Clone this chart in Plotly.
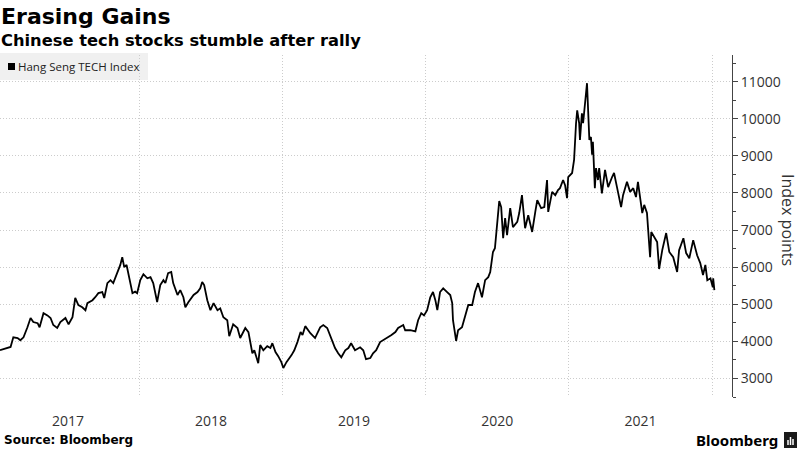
import plotly.graph_objects as go

# Hang Seng TECH Index
dates = [
    "2017-01-10", "2017-01-29", "2017-02-06", "2017-02-13", "2017-02-24", "2017-03-03", "2017-03-11",
    "2017-03-21", "2017-03-29", "2017-04-05", "2017-04-16", "2017-04-21", "2017-05-01", "2017-05-11",
    "2017-05-19", "2017-05-26", "2017-06-05", "2017-06-13", "2017-06-26", "2017-07-04", "2017-07-14",
    "2017-07-21", "2017-07-29", "2017-08-08", "2017-08-16", "2017-08-21", "2017-09-03", "2017-09-10",
    "2017-09-18", "2017-09-28", "2017-10-03", "2017-10-11", "2017-10-19", "2017-10-26", "2017-11-06",
    "2017-11-13", "2017-11-18", "2017-11-23", "2017-11-29", "2017-12-04", "2017-12-14", "2017-12-21",
    "2017-12-26", "2018-01-03", "2018-01-11", "2018-01-21", "2018-01-29", "2018-02-05", "2018-02-15",
    "2018-02-23", "2018-03-03", "2018-03-08", "2018-03-15", "2018-03-23", "2018-03-28", "2018-04-08",
    "2018-04-15", "2018-04-23", "2018-04-28", "2018-05-06", "2018-05-19", "2018-05-29", "2018-06-05",
    "2018-06-10", "2018-06-15", "2018-06-23", "2018-07-01", "2018-07-09", "2018-07-19", "2018-07-26",
    "2018-08-03", "2018-08-13", "2018-08-18", "2018-08-28", "2018-09-08", "2018-09-15", "2018-09-28",
    "2018-10-06", "2018-10-16", "2018-10-21", "2018-10-31", "2018-11-05", "2018-11-13", "2018-11-23",
    "2018-12-01", "2018-12-06", "2018-12-14", "2018-12-21", "2018-12-29", "2019-01-03", "2019-01-11",
    "2019-01-24", "2019-01-31", "2019-02-08", "2019-02-16", "2019-02-21", "2019-02-28", "2019-03-13",
    "2019-03-25", "2019-04-07", "2019-04-15", "2019-04-25", "2019-05-05", "2019-05-15", "2019-05-23",
    "2019-05-31", "2019-06-10", "2019-06-18", "2019-06-25", "2019-07-05", "2019-07-18", "2019-07-26",
    "2019-08-02", "2019-08-13", "2019-08-20", "2019-08-28", "2019-09-07", "2019-09-20", "2019-09-28",
    "2019-10-06", "2019-10-16", "2019-10-23", "2019-11-05", "2019-11-10", "2019-11-23", "2019-12-06",
    "2019-12-13", "2019-12-21", "2019-12-28", "2020-01-05", "2020-01-13", "2020-01-20", "2020-01-26",
    "2020-01-31", "2020-02-07", "2020-02-15", "2020-02-25", "2020-03-04", "2020-03-09", "2020-03-11",
    "2020-03-19", "2020-03-24", "2020-04-03", "2020-04-11", "2020-04-19", "2020-04-29", "2020-05-06",
    "2020-05-14", "2020-05-24", "2020-06-01", "2020-06-09", "2020-06-14", "2020-06-21", "2020-06-26",
    "2020-07-02", "2020-07-07", "2020-07-12", "2020-07-17", "2020-07-22", "2020-07-27", "2020-08-04",
    "2020-08-11", "2020-08-22", "2020-08-27", "2020-09-03", "2020-09-11", "2020-09-19", "2020-09-29",
    "2020-10-07", "2020-10-12", "2020-10-22", "2020-10-30", "2020-11-06", "2020-11-09", "2020-11-19",
    "2020-11-27", "2020-12-04", "2020-12-09", "2020-12-17", "2020-12-22", "2020-12-27", "2020-12-30",
    "2021-01-09", "2021-01-14", "2021-01-19", "2021-01-22", "2021-01-27", "2021-01-29", "2021-02-03",
    "2021-02-06", "2021-02-16", "2021-02-19", "2021-02-22", "2021-02-26", "2021-03-01", "2021-03-03",
    "2021-03-08", "2021-03-11", "2021-03-16", "2021-03-19", "2021-03-26", "2021-04-03", "2021-04-11",
    "2021-04-21", "2021-04-26", "2021-05-04", "2021-05-14", "2021-05-19", "2021-05-29", "2021-06-06",
    "2021-06-14", "2021-06-21", "2021-06-26", "2021-07-07", "2021-07-12", "2021-07-19", "2021-07-27",
    "2021-07-30", "2021-08-07", "2021-08-14", "2021-08-19", "2021-08-27", "2021-09-06", "2021-09-14",
    "2021-09-24", "2021-10-04", "2021-10-09", "2021-10-20", "2021-10-27", "2021-11-04", "2021-11-14",
    "2021-11-24", "2021-12-02", "2021-12-09", "2021-12-15", "2021-12-20", "2021-12-28", "2022-01-03",
    "2022-01-04", "2022-01-07",
]
index_points = [
    3760, 3820, 3850, 4110, 4090, 4030, 4110,
    4380, 4630, 4520, 4490, 4380, 4760, 4700,
    4630, 4440, 4360, 4520, 4630, 4460, 4650,
    5170, 4980, 4920, 4840, 5030, 5110, 5190,
    5300, 5330, 5170, 5570, 5650, 5570, 5840,
    6060, 6270, 6000, 6060, 5790, 5300, 5340,
    5300, 5650, 5810, 5700, 5730, 5570, 5060,
    5520, 5650, 5570, 5840, 5870, 5570, 5250,
    5380, 5190, 4920, 5060, 5250, 5330, 5430,
    5600, 5520, 5110, 4840, 5030, 4840, 4890,
    4650, 4570, 4140, 4460, 4360, 4090, 4360,
    4250, 3680, 3760, 3410, 3900, 3760, 3870,
    3820, 3950, 3710, 3600, 3440, 3280, 3440,
    3630, 3760, 3980, 4250, 4170, 4410, 4220,
    4090, 4380, 4440, 4360, 4090, 3820, 3680,
    3570, 3760, 3820, 3950, 3760, 3840, 3760,
    3520, 3550, 3680, 3760, 3980, 4060, 4110,
    4170, 4250, 4360, 4440, 4300, 4300, 4270,
    4570, 4760, 4700, 4840, 5190, 5330, 5110,
    4840, 5330, 5430, 5330, 5250, 5030, 4570,
    4010, 4300, 4380, 4650, 4980, 4980, 5330,
    5570, 5190, 5650, 5730, 5870, 6410, 6510,
    7270, 7780, 7620, 6780, 7320, 6860, 7590,
    7080, 7220, 7460, 7940, 7050, 7400, 6950,
    7490, 7810, 7590, 7620, 8350, 7490, 8030,
    7940, 8080, 8130, 8350, 8210, 7860, 8430,
    8540, 8890, 9880, 10230, 9880, 9430, 10150,
    9880, 10960, 10310, 9430, 9510, 9030, 9380,
    8130, 8670, 8350, 8670, 7990, 8620, 8160,
    8430, 8540, 8130, 7620, 7940, 8300, 8030,
    8130, 7890, 8300, 7460, 7680, 7460, 6270,
    6950, 6810, 6680, 5950, 6460, 6920, 6410,
    6270, 5870, 6460, 6780, 6380, 6240, 6730,
    6320, 6110, 5790, 6060, 5650, 5700, 5460,
    5700, 5380,
]

series_name = "Hang Seng TECH Index"
title_text = "Erasing Gains"
subtitle_text = "Chinese tech stocks stumble after rally"
y_title = "Index points"
source_text = "Source: Bloomberg"
x_range = ["2017-01-10", "2022-02-21"]
y_range = [2500, 11720]

TITLEFONT = "DejaVu Sans"
TICKFONT = "Open Sans"

fig = go.Figure()
fig.add_trace(go.Scatter(
    x=dates, y=index_points, mode="lines", name=series_name,
    line=dict(color="#000000", width=1.8), showlegend=False,
))

grid = dict(gridcolor="#cccccc", gridwidth=1, griddash="1px,2px")

fig.update_layout(
    width=800, height=450,
    margin=dict(l=0, r=68, t=55, b=53, autoexpand=False),
    paper_bgcolor="white", plot_bgcolor="white",
    showlegend=False,
    xaxis=dict(
        type="date", range=x_range, automargin=False,
        dtick="M12", tick0="2017-01-01", ticklabelmode="period",
        tickformat="%Y", ticks="", showline=False, zeroline=False,
        showgrid=True, **grid,
        tickfont=dict(family=TICKFONT, size=14, color="#333333"),
        ticklabelstandoff=14,
    ),
    yaxis=dict(
        side="right", range=y_range, dtick=1000, tick0=0, tickformat="d",
        automargin=False,
        showgrid=True, **grid, zeroline=False,
        showline=True, linecolor="#444444", linewidth=1,
        ticks="outside", ticklen=5, tickcolor="#444444",
        minor=dict(dtick=500, ticks="outside", ticklen=3, tickcolor="#444444", showgrid=False),
        tickfont=dict(family=TICKFONT, size=14, color="#333333"),
    ),
)

def px(x):
    return x / 732.0

def py(y):
    return (397.0 - y) / 342.0

# legend box
fig.add_shape(type="rect", xref="paper", yref="paper", x0=px(0), x1=px(148), y0=py(80), y1=py(53),
              fillcolor="#f0f0f0", line=dict(width=0), layer="below")
fig.add_shape(type="rect", xref="paper", yref="paper", x0=px(8), x1=px(15), y0=py(70), y1=py(63),
              fillcolor="#000000", line=dict(width=0), layer="above")
fig.add_annotation(xref="paper", yref="paper", x=px(16), y=py(66.5), xanchor="left", yanchor="middle",
                   text=series_name, showarrow=False,
                   font=dict(family=TICKFONT, size=11.5, color="#222222"))

# titles
fig.add_annotation(xref="paper", yref="paper", x=px(-1), y=py(16), xanchor="left", yanchor="middle",
                   text="<b>" + title_text + "</b>", showarrow=False,
                   font=dict(family=TITLEFONT, size=22, color="#000000"))
fig.add_annotation(xref="paper", yref="paper", x=px(-1), y=py(40), xanchor="left", yanchor="middle",
                   text="<b>" + subtitle_text + "</b>", showarrow=False,
                   font=dict(family=TITLEFONT, size=16.3, color="#000000"))

# y-axis title
fig.add_annotation(xref="paper", yref="paper", x=px(788), y=py(220), xanchor="center", yanchor="middle",
                   text=y_title, textangle=90, showarrow=False,
                   font=dict(family=TICKFONT, size=16, color="#333333"))

# source
fig.add_annotation(xref="paper", yref="paper", x=px(2), y=py(440), xanchor="left", yanchor="middle",
                   text="<b>" + source_text + "</b>", showarrow=False,
                   font=dict(family=TITLEFONT, size=12, color="#000000"))

# Bloomberg logo
fig.add_annotation(xref="paper", yref="paper", x=px(780), y=py(440), xanchor="right", yanchor="middle",
                   text="<b>Bloomberg</b>", showarrow=False,
                   font=dict(family="Noto Sans", size=15, color="#000000"))
fig.add_shape(type="rect", xref="paper", yref="paper", x0=px(784), x1=px(797), y0=py(448), y1=py(432),
              fillcolor="#1a1a1a", line=dict(width=0), layer="above")
for bx, top in [(788, 440), (790.5, 437), (793, 439)]:
    fig.add_shape(type="line", xref="paper", yref="paper", x0=px(bx), x1=px(bx), y0=py(445), y1=py(top),
                  line=dict(color="white", width=1.5), layer="above")

fig.write_html("out.html", config={"displayModeBar": False},
               post_script="document.body.style.margin='0';")
